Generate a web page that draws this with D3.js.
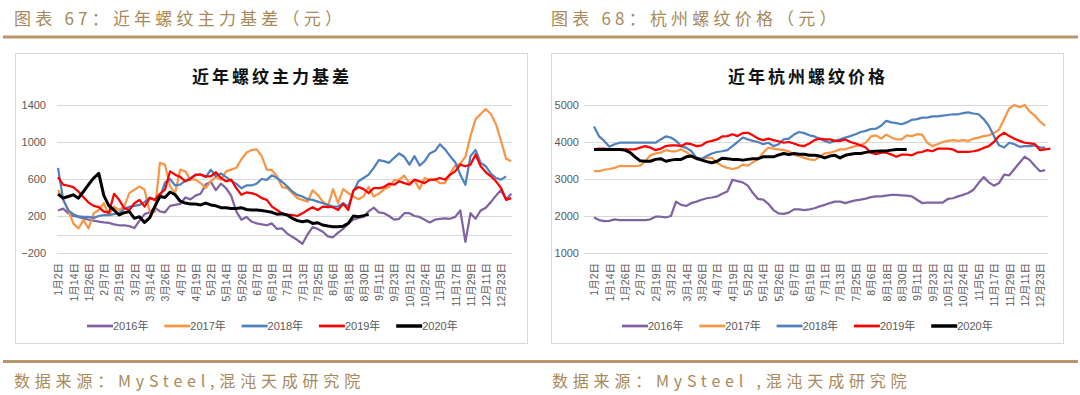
<!DOCTYPE html>
<html>
<head>
<meta charset="utf-8">
<script src="https://cdn.jsdelivr.net/npm/d3@7"></script>
<style>
  body { margin: 0; background: #fff; }
  .gold-text { font-family: "Noto Sans CJK SC", sans-serif; fill: #a8895a; }
  .chart-title { font-family: "Noto Sans CJK SC", sans-serif; font-weight: bold; fill: #111; }
  .tick text, .legend text { font-family: "Liberation Sans", "Noto Sans CJK SC", sans-serif; fill: #595959; }
</style>
</head>
<body>
<div id="page"></div>
<script>

// category labels, one every 12 trading days
var tickLabels = ["1月2日", "1月14日", "1月26日", "2月7日", "2月19日", "3月2日", "3月14日", "3月26日",
  "4月7日", "4月19日", "5月2日", "5月14日", "5月26日", "6月7日", "6月19日", "7月1日", "7月13日",
  "7月25日", "8月6日", "8月18日", "8月30日", "9月11日", "9月23日", "10月12日", "10月24日", "11月5日",
  "11月17日", "11月29日", "12月11日", "12月23日"];
var tickEvery = 12;
// values below are read every 4 categories
var sampleStep = 4;
var years = ["2016年", "2017年", "2018年", "2019年", "2020年"];

// 近年螺纹主力基差
var basis2016 = [260,280,230,200,190,175,160,150,140,130, 125,110,100,100,90,70,150,220,240,290,
  250,240,310,320,330,400,380,420,440,540, 570,480,550,500,420,250,160,190,140,120,
  110,100,120,60,65,10,-25,-60,-100,0, 80,60,30,-20,-30,20,60,120,160,180,
  190,250,290,240,230,200,160,170,230,230, 200,190,160,130,160,170,175,170,190,260,
  -80,230,170,260,290,350,420,480,380,440];
var basis2017 = [480,375,270,120,65,156,65,229,265,338, 210,302,265,302,447,484,520,484,247,247,
  774,756,520,447,702,683,593,593,556,502, 575,622,593,683,702,720,811,884,913,920,
  847,702,695,629,513,502,447,393,375,356, 476,429,356,309,491,338,491,447,411,382,
  411,513,411,440,491,513,585,593,636,556, 585,491,611,585,593,556,556,658,745,767,
  840,1065,1247,1302,1356,1302,1193,1011,818,793];
var basis2018 = [720,380,260,220,195,190,190,180,200,210, 210,220,230,280,300,310,320,350,400,380,
  400,560,600,530,540,580,610,640,650,620, 700,630,660,620,580,550,500,530,530,550,
  600,590,640,610,570,520,465,429,411,382, 375,356,338,320,302,302,338,302,465,575,
  611,647,720,803,793,775,829,876,840,756, 847,745,793,876,902,975,920,847,782,647,
  538,847,913,775,738,658,611,593,629];
var basis2019 = [620,540,527,513,465,404,345,309,295,247, 236,440,375,284,265,338,375,302,393,375,
  440,484,683,647,622,575,600,647,647,629, 629,673,611,575,593,502,430,455,447,430,
  393,375,302,265,229,211,211,200,229,265, 295,265,302,295,295,265,331,265,476,513,
  491,447,502,502,513,549,538,575,556,538, 593,575,556,593,593,611,593,647,683,756,
  738,756,865,738,673,629,575,502,375,393];
var basis2020 = [436,393,411,429,393,465,540,610,660,420, 309,265,211,236,247,175,193,130,180,302,
  410,400,460,430,360,340,330,330,320,340, 320,310,290,290,280,280,290,270,265,265,
  260,250,240,220,225,211,175,150,138,149, 120,127,102,91,84,84,90,120,200,193,
  204,218];

// 近年杭州螺纹价格
var price2016 = [1960,1890,1860,1870,1910,1890,1890,1890,1890,1890, 1890,1910,1980,1980,1960,2000,2390,2300,2270,2350,
  2390,2440,2480,2500,2530,2600,2660,2980,2940,2910, 2820,2620,2460,2440,2330,2160,2070,2060,2090,2180,
  2180,2160,2180,2210,2260,2300,2350,2390,2390,2350, 2390,2420,2440,2470,2510,2530,2530,2550,2570,2570,
  2560,2550,2530,2440,2350,2360,2360,2360,2360,2460, 2480,2530,2570,2620,2710,2890,3050,2910,2820,2890,
  3120,3100,3270,3440,3600,3510,3350,3210,3240];
var price2017 = [3210,3210,3250,3270,3300,3350,3350,3350,3350,3360, 3480,3640,3690,3710,3780,3750,3750,3800,3730,3620,
  3530,3530,3570,3570,3440,3350,3300,3270,3300,3390, 3360,3450,3530,3710,3850,3820,3800,3780,3750,3660,
  3620,3570,3530,3510,3600,3690,3710,3750,3800,3800, 3850,3890,3910,3980,4150,4180,4090,4200,4120,4070,
  4070,4180,4160,4210,4200,3980,3890,3940,4000,4030, 4050,4030,4050,4030,4090,4120,4160,4180,4240,4330,
  4620,4910,5000,4940,5000,4820,4710,4550,4440];
var price2018 = [4420,4150,4030,3870,3940,3980,3980,3980,3980,3980, 3980,3980,3980,4070,4150,4120,4030,3890,3840,3750,
  3570,3550,3620,3690,3730,3750,3780,3890,4000,4120, 4070,4030,4000,3940,3980,3890,3940,4070,4090,4200,
  4270,4240,4180,4150,4090,4030,3980,4030,4070,4120, 4160,4210,4270,4300,4350,4360,4440,4570,4530,4510,
  4480,4530,4600,4620,4660,4660,4690,4690,4710,4730, 4750,4750,4780,4800,4770,4750,4620,4440,4160,3910,
  3850,3980,3940,3870,3890,3890,3910,3850,3850];
var price2019 = [3800,3820,3820,3800,3800,3800,3800,3800,3800,3850, 3890,3850,3780,3820,3890,3910,3910,3890,3960,3940,
  3890,3910,4000,4030,4070,4150,4160,4210,4160,4240, 4250,4180,4090,4050,4090,4050,4020,3980,4000,3960,
  3910,3890,3960,4050,4090,4070,4070,4030,4030,4070, 4000,3960,3910,3850,3710,3670,3710,3710,3660,3600,
  3660,3660,3640,3710,3730,3780,3750,3820,3820,3820, 3800,3730,3730,3730,3750,3780,3840,3890,4000,4160,
  4250,4160,4090,4030,3980,3960,3940,3780,3800,3820];
var price2020 = [3800,3800,3800,3800,3800,3800,3780,3720,3600,3490, 3480,3480,3530,3550,3480,3510,3530,3530,3600,3620,
  3560,3510,3470,3440,3480,3560,3550,3530,3530,3510, 3530,3550,3550,3600,3600,3600,3650,3690,3660,3690,
  3670,3670,3640,3640,3620,3570,3620,3640,3570,3640, 3670,3690,3690,3720,3740,3750,3760,3760,3780,3800,
  3800,3800];

var lineColors = ["#8064a2", "#f79646", "#4f81bd", "#ff0000", "#000000"];
var lineWidths = [2.25, 2.25, 2.25, 2.25, 3];

/*
 * LineChart - one boxed panel
 * @param _parent  -- svg selection to draw in
 * @param _config  -- layout + series
 */
LineChart = function(_parent, _config){
  this.parent = _parent;
  this.config = _config;
  this.initVis();
}

LineChart.prototype.initVis = function(){
  var vis = this;
  var c = vis.config;

  vis.g = vis.parent.append("g");

  // panel box
  vis.g.append("rect")
    .attr("x", c.box[0] + 0.5).attr("y", c.box[1] + 0.5)
    .attr("width", c.box[2]).attr("height", c.box[3])
    .attr("fill", "#fff").attr("stroke", "#d9d9d9");

  vis.g.append("text")
    .attr("class", "chart-title")
    .attr("x", c.titleX).attr("y", 83)
    .attr("text-anchor", "middle")
    .style("font-size", "17px")
    .style("letter-spacing", "3px")
    .text(c.title);

  // Scales
  vis.x = d3.scaleLinear().domain(c.xDomain).range([c.left, c.right]);
  vis.y = d3.scaleLinear().domain(c.yDomain).range([c.bottom, c.top]);

  // gridlines
  vis.g.append("g").selectAll("line")
    .data(c.yTicks.concat(c.axisAt !== undefined ? [c.axisAt] : []))
    .enter().append("line")
    .attr("x1", c.left).attr("x2", c.right)
    .attr("y1", d => Math.round(vis.y(d)) + 0.5)
    .attr("y2", d => Math.round(vis.y(d)) + 0.5)
    .attr("stroke", "#d9d9d9");

  // y axis
  vis.yAxis = d3.axisLeft(vis.y)
    .tickValues(c.yTicks)
    .tickFormat(d3.format("d"))
    .tickSize(0)
    .tickPadding(c.yPad);
  vis.g.append("g")
    .attr("transform", "translate(" + c.left + ",0)")
    .call(vis.yAxis)
    .call(g => g.select(".domain").remove())
    .selectAll("text").style("font-size", "11px");

  // x axis, rotated labels
  vis.xAxis = d3.axisBottom(vis.x)
    .tickValues(tickLabels.map((d, i) => i * tickEvery))
    .tickFormat((d, i) => tickLabels[i])
    .tickSize(0);
  vis.g.append("g")
    .attr("transform", "translate(0," + c.bottom + ")")
    .call(vis.xAxis)
    .call(g => g.select(".domain").remove())
    .selectAll("text")
      .style("font-size", "10.5px")
      .style("text-anchor", "end")
      .attr("transform", "rotate(-90)")
      .attr("x", -10).attr("y", 0).attr("dy", "0.36em");

  vis.wrangleData();
}

LineChart.prototype.wrangleData = function(){
  var vis = this;
  vis.series = vis.config.series.map(function(s, j){
    return {
      name: years[j],
      color: lineColors[j],
      width: lineWidths[j],
      values: s.map((v, k) => ({ i: k * sampleStep, v: v }))
    };
  });
  vis.updateVis();
}

LineChart.prototype.updateVis = function(){
  var vis = this;
  var c = vis.config;

  var line = d3.line()
    .x(d => vis.x(d.i))
    .y(d => vis.y(d.v));

  vis.g.append("g").selectAll("path")
    .data(vis.series)
    .enter().append("path")
    .attr("d", d => line(d.values))
    .attr("fill", "none")
    .attr("stroke", d => d.color)
    .attr("stroke-width", d => d.width)
    .attr("stroke-linejoin", "round");

  // Legend
  var leg = vis.g.append("g").attr("class", "legend")
    .selectAll("g").data(vis.series).enter().append("g")
    .attr("transform", (d, j) => "translate(" + (c.legendX + j * 77.3) + "," + c.legendY + ")");
  leg.append("line")
    .attr("x1", 0).attr("x2", 26)
    .attr("stroke", d => d.color)
    .attr("stroke-width", d => d.width + 0.5);
  leg.append("text")
    .attr("x", 26).attr("dy", "0.36em")
    .style("font-size", "11px")
    .text(d => d.name);
}

//////////////////////////////////////////
/*              PAGE                    */
//////////////////////////////////////////

var svg = d3.select("#page").append("svg")
  .attr("width", 1080).attr("height", 395);

var gold = "#b8986a";
svg.append("rect").attr("x", 3).attr("y", 35.5).attr("width", 1075).attr("height", 3).attr("fill", gold);
svg.append("rect").attr("x", 3).attr("y", 360).attr("width", 1075).attr("height", 3).attr("fill", gold);

[["图表 67：近年螺纹主力基差（元）", 14], ["图表 68：杭州螺纹价格（元）", 551]].forEach(function(h){
  svg.append("text").attr("class", "gold-text")
    .attr("x", h[1]).attr("y", 25)
    .style("font-size", "17px").style("letter-spacing", "4.2px")
    .text(h[0]);
});
[["数据来源：MySteel,混沌天成研究院", 14], ["数据来源：MySteel ,混沌天成研究院", 552]].forEach(function(h){
  svg.append("text").attr("class", "gold-text")
    .attr("x", h[1]).attr("y", 387)
    .style("font-size", "16px").style("letter-spacing", "4.8px")
    .text(h[0]);
});

var basisChart = new LineChart(svg, {
  box: [15, 53, 512, 290],
  title: "近年螺纹主力基差",
  titleX: 272,
  left: 57, right: 512, top: 105, bottom: 253,
  xDomain: [-0.8, 356.6],
  yDomain: [-200, 1400],
  yTicks: [-200, 200, 600, 1000, 1400],
  axisAt: 0,
  yPad: 11,
  legendX: 87, legendY: 326,
  series: [basis2016, basis2017, basis2018, basis2019, basis2020]
});

var priceChart = new LineChart(svg, {
  box: [551, 53, 512, 290],
  title: "近年杭州螺纹价格",
  titleX: 808,
  left: 584, right: 1048, top: 105, bottom: 253,
  xDomain: [-7.8, 354.2],
  yDomain: [1000, 5000],
  yTicks: [1000, 2000, 3000, 4000, 5000],
  yPad: 5,
  legendX: 622, legendY: 326,
  series: [price2016, price2017, price2018, price2019, price2020]
});

</script>
</body>
</html>
